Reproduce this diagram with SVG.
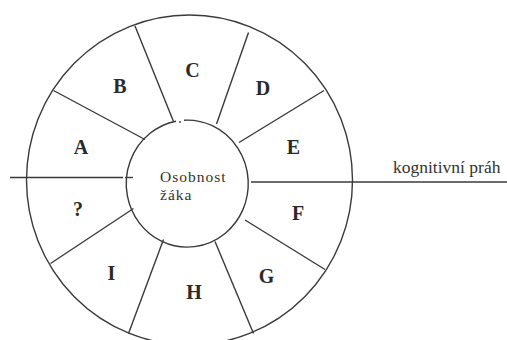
<svg xmlns="http://www.w3.org/2000/svg" width="507" height="340" viewBox="0 0 507 340">
<style>
.ln{stroke:#3a3a3a;stroke-width:1.4;fill:none}
.big{font-family:"Liberation Serif","Times New Roman",serif;font-size:20px;font-weight:bold;fill:#2a2a2a;text-anchor:middle}
.sm{font-family:"Liberation Serif","Times New Roman",serif;font-size:15.5px;letter-spacing:1px;fill:#333}
.th{font-family:"Liberation Serif","Times New Roman",serif;font-size:17.5px;fill:#333}
</style>
<rect width="507" height="340" fill="#fff"/>
<g id="wheel">
<ellipse class="ln" cx="189.5" cy="180" rx="163" ry="165"/>
</g>
<g id="center">
<path class="ln" d="M184,120.2 A61,63.5 0 1 1 176,121.2"/>
<circle cx="180" cy="122" r="0.9" fill="#3a3a3a"/>
<text class="sm" x="160" y="182">Osobnost</text>
<text class="sm" x="160" y="200">žáka</text>
</g>
<g id="connectors">
<line class="ln" x1="135" y1="26" x2="173.5" y2="121.5"/>
<line class="ln" x1="248.5" y1="32.5" x2="216.5" y2="124"/>
<line class="ln" x1="324" y1="90.5" x2="239" y2="142.5"/>
<line class="ln" x1="53.5" y1="90.5" x2="145" y2="139.5"/>
<line class="ln" x1="10" y1="177.5" x2="123" y2="177.5"/>
<line class="ln" x1="125" y1="177.5" x2="133" y2="177.5"/>
<line class="ln" x1="251" y1="182" x2="507" y2="182"/>
<line class="ln" x1="133.5" y1="208.5" x2="50.5" y2="263.5"/>
<line class="ln" x1="163.5" y1="239.5" x2="128.5" y2="333.5"/>
<line class="ln" x1="215" y1="241.5" x2="253.5" y2="333.5"/>
<line class="ln" x1="245" y1="220" x2="325" y2="269.5"/>
</g>
<g id="A"><text class="big" x="81" y="154">A</text></g>
<g id="B"><text class="big" x="120" y="93">B</text></g>
<g id="C"><text class="big" x="192.5" y="77">C</text></g>
<g id="D"><text class="big" x="263" y="95">D</text></g>
<g id="E"><text class="big" x="293.5" y="154">E</text></g>
<g id="F"><text class="big" x="298" y="220">F</text></g>
<g id="G"><text class="big" x="266.5" y="283">G</text></g>
<g id="H"><text class="big" x="194" y="299">H</text></g>
<g id="I"><text class="big" x="111.5" y="280">I</text></g>
<g id="Q"><text class="big" x="78" y="216" font-weight="normal">?</text></g>
<g id="threshold"><text class="th" x="393" y="173">kognitivní práh</text></g>
</svg>
